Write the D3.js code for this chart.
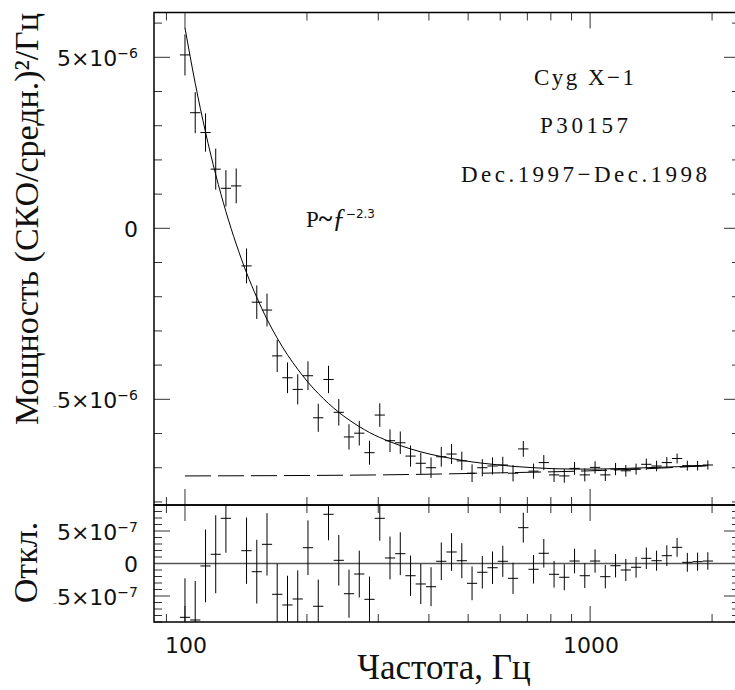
<!DOCTYPE html>
<html><head><meta charset="utf-8">
<script src="https://cdn.jsdelivr.net/npm/d3@7"></script>
<style>body{margin:0;background:#fff}svg{display:block}</style>
</head><body>
<svg id="c" width="735" height="690"></svg>
<script>
// ---- data ----
const freqs = [100,106,112.4,119.1,126.2,133.8,141.9,150.4,159.4,168.9,179.1,189.8,201.2,213.3,226.1,239.7,254.0,269.3,285.4,302.6,320.7,340.0,360.4,382.0,404.9,429.2,455.0,482.3,511.2,541.9,574.3,608.8,645.3,684.0,725.1,768.6,814.7,863.6,915.4,970.3,1028.5,1090.2,1155.6,1225.0,1298.5,1376.4,1459.0,1546.5,1639.3,1737.7,1842.0,1952.5];
// power, units of 1e-6
const power = [5.07,3.38,2.80,1.73,1.17,1.24,-1.10,-2.16,-2.39,-3.73,-4.37,-4.71,-4.31,-5.54,-4.42,-5.38,-6.10,-5.99,-6.56,-5.46,-6.21,-6.27,-6.66,-6.87,-7.00,-6.68,-6.60,-6.80,-7.16,-7.00,-6.95,-6.92,-7.16,-6.45,-7.10,-6.85,-7.21,-7.24,-7.02,-7.21,-6.99,-7.21,-7.04,-7.09,-7.04,-6.90,-6.95,-6.85,-6.73,-6.94,-6.94,-6.92];
// errors, units of 1e-6
const powerErr = [0.60,0.60,0.56,0.60,0.53,0.51,0.51,0.49,0.48,0.47,0.45,0.44,0.42,0.41,0.40,0.39,0.37,0.36,0.35,0.345,0.33,0.33,0.31,0.31,0.30,0.29,0.29,0.27,0.26,0.25,0.25,0.24,0.24,0.23,0.22,0.22,0.205,0.20,0.19,0.19,0.18,0.18,0.18,0.17,0.16,0.165,0.155,0.16,0.145,0.145,0.14,0.135];
// residuals, units of 1e-7
const resid = [-8.28,-8.69,-0.38,1.42,6.95,14.4,1.97,-1.26,2.95,-4.74,-6.38,-5.46,2.43,-6.58,7.57,0.49,-4.65,-1.62,-5.51,6.95,0.85,1.51,-1.88,-3.15,-3.57,0.34,1.77,0.43,-3.05,-1.35,-0.65,0.34,-2.28,5.51,-0.89,1.57,-1.66,-2.12,0.38,-1.88,0.38,-2.03,-0.34,-1.0,-0.58,0.8,0.43,1.2,2.49,0.18,0.28,0.38];
// fitted model curve P~f^-2.3 (units 1e-6)
const fitF = [100,106,112.4,119.1,126.2,133.8,141.9,150.4,159.4,168.9,179.1,189.8,201.2,213.3,226.1,239.7,254,285.4,320.7,360.4,404.9,455,511.2,574.3,645.3,725,814.7,915.4,1028.5,1155.6,1298.5,1459,1639.3,1842,1952.5];
const fitP = [5.86,4.24,2.81,1.57,0.49,-0.46,-1.30,-2.02,-2.66,-3.21,-3.70,-4.12,-4.50,-4.83,-5.12,-5.38,-5.60,-5.97,-6.24,-6.45,-6.61,-6.73,-6.83,-6.90,-6.96,-7.00,-7.03,-7.04,-7.04,-7.03,-7.01,-6.99,-6.97,-6.95,-6.94];
// constant (dashed) component
const levelF = [100,300,600,1000,1500,1952.5];
const levelP = [-7.24,-7.21,-7.15,-7.09,-7.01,-6.94];
const xTickLabels = [100, 1000];
const yTopTickLabels = [5e-6, 0, -5e-6];
const yBotTickLabels = [5e-7, 0, -5e-7];
const annot = ["Cyg X\u22121", "P30157", "Dec.1997\u2212Dec.1998"];

// ---- layout ----
const L = 154, R = 740, T = 12.5, M = 505, B = 622;
const svg = d3.select("#c");
const x = d3.scaleLog().domain([83.86, 2344]).range([L, R]);
const yT = d3.scaleLinear().domain([-8.09e-6, 6.31e-6]).range([M, T]);
const yB = d3.scaleLinear().domain([-9e-7, 9e-7]).range([B, M]);

const defs = svg.append("defs");
defs.append("clipPath").attr("id","clipT").append("rect").attr("x",L).attr("y",T).attr("width",R-L).attr("height",M-T);
defs.append("clipPath").attr("id","clipB").append("rect").attr("x",L).attr("y",M).attr("width",R-L).attr("height",B-M);

// ---- ticks ----
const tickG = svg.append("g").attr("stroke","#333").attr("stroke-width",1);
const xt = x.ticks();
const isMajorX = f => Math.abs(Math.log10(f) - Math.round(Math.log10(f))) < 1e-9;
xt.forEach(f => {
  const px = x(f), len = isMajorX(f) ? 16 : 8;
  tickG.append("line").attr("x1",px).attr("x2",px).attr("y1",T).attr("y2",T+len);
  tickG.append("line").attr("x1",px).attr("x2",px).attr("y1",M-len).attr("y2",M+len);
  tickG.append("line").attr("x1",px).attr("x2",px).attr("y1",B).attr("y2",B-len);
});
d3.range(-8, 7).forEach(k => {
  const py = yT(k*1e-6), len = (k % 5 === 0) ? 16 : 8;
  tickG.append("line").attr("x1",L).attr("x2",L+len).attr("y1",py).attr("y2",py);
  tickG.append("line").attr("x1",R).attr("x2",R-len).attr("y1",py).attr("y2",py);
});
d3.range(-9, 10).forEach(k => {
  const py = yB(k*1e-7), len = (k % 5 === 0) ? 16 : 8;
  tickG.append("line").attr("x1",L).attr("x2",L+len).attr("y1",py).attr("y2",py);
  tickG.append("line").attr("x1",R).attr("x2",R-len).attr("y1",py).attr("y2",py);
});

// ---- zero line in residual panel ----
svg.append("line").attr("x1",L).attr("x2",R).attr("y1",yB(0)).attr("y2",yB(0))
  .attr("stroke","#555").attr("stroke-width",1.5);

// ---- frames ----
svg.append("rect").attr("x",L).attr("y",T).attr("width",R-L).attr("height",M-T)
  .attr("fill","none").attr("stroke","#000").attr("stroke-width",1.5);
svg.append("rect").attr("x",L).attr("y",M).attr("width",R-L).attr("height",B-M)
  .attr("fill","none").attr("stroke","#000").attr("stroke-width",1.5);

// ---- bins ----
const n = freqs.length;
const bins = freqs.map((f,i) => {
  const lo = i > 0 ? Math.sqrt(f*freqs[i-1]) : f/Math.sqrt(freqs[1]/f);
  const hi = i < n-1 ? Math.sqrt(f*freqs[i+1]) : f*Math.sqrt(f/freqs[i-1]);
  return [lo, hi];
});

// ---- top panel ----
const gT = svg.append("g").attr("clip-path","url(#clipT)");
const line = d3.line().curve(d3.curveMonotoneX);
gT.append("path").attr("d", line(fitF.map((f,i)=>[x(f), yT(fitP[i]*1e-6)])))
  .attr("fill","none").attr("stroke","#000").attr("stroke-width",1);
gT.append("path").attr("d", line(levelF.map((f,i)=>[x(f), yT(levelP[i]*1e-6)])))
  .attr("fill","none").attr("stroke","#000").attr("stroke-width",1).attr("stroke-dasharray","26,7");
const ptsT = gT.append("g").attr("stroke","#000").attr("stroke-width",1);
freqs.forEach((f,i) => {
  const v = power[i]*1e-6, e = powerErr[i]*1e-6;
  ptsT.append("line").attr("x1",x(f)).attr("x2",x(f)).attr("y1",yT(v-e)).attr("y2",yT(v+e));
  ptsT.append("line").attr("x1",x(bins[i][0])).attr("x2",x(bins[i][1])).attr("y1",yT(v)).attr("y2",yT(v));
});

// ---- bottom panel ----
const gB = svg.append("g").attr("clip-path","url(#clipB)");
const ptsB = gB.append("g").attr("stroke","#000").attr("stroke-width",1);
freqs.forEach((f,i) => {
  const v = resid[i]*1e-7, e = powerErr[i]*1e-6;
  ptsB.append("line").attr("x1",x(f)).attr("x2",x(f)).attr("y1",yB(v-e)).attr("y2",yB(v+e));
  ptsB.append("line").attr("x1",x(bins[i][0])).attr("x2",x(bins[i][1])).attr("y1",yB(v)).attr("y2",yB(v));
});

// ---- tick labels ----
function sciLabel(sel, v, exp) {
  if (v === 0) { sel.text("0"); return; }
  const m = Math.round(Math.abs(v) / Math.pow(10, exp));
  if (v < 0) sel.append("tspan").attr("font-size", 5).text("\u2212");
  sel.append("tspan").text(m + "\u00d710");
  sel.append("tspan").attr("font-size", 14).attr("dy", -8).text("\u2212" + Math.abs(exp));
}
const lblFont = "'DejaVu Sans', sans-serif";
yTopTickLabels.forEach(v => {
  const t = svg.append("text").attr("x",138).attr("y",yT(v)+8.5).attr("text-anchor","end")
    .attr("font-family",lblFont).attr("font-size",22).attr("fill","#111");
  sciLabel(t, v, -6);
});
yBotTickLabels.forEach(v => {
  const t = svg.append("text").attr("x",138).attr("y",yB(v)+8.5).attr("text-anchor","end")
    .attr("font-family",lblFont).attr("font-size",22).attr("fill","#111");
  sciLabel(t, v, -7);
});
xTickLabels.forEach(f => {
  svg.append("text").attr("x",x(f)+1).attr("y",653).attr("text-anchor","middle")
    .attr("font-family",lblFont).attr("font-size",22).attr("fill","#111").text(f);
});

// ---- axis titles ----
const serif = "'Liberation Serif', 'Times New Roman', serif";
svg.append("text").attr("transform","translate(38,219) rotate(-90)").attr("text-anchor","middle")
  .attr("font-family",serif).attr("font-size",34).attr("fill","#111")
  .text("Мощность (СКО/средн.)\u00b2/Гц");
svg.append("text").attr("transform","translate(37,562.5) rotate(-90)").attr("text-anchor","middle")
  .attr("font-family",serif).attr("font-size",34).attr("fill","#111").text("Откл.");
svg.append("text").attr("x",444).attr("y",679).attr("text-anchor","middle")
  .attr("font-family",serif).attr("font-size",35).attr("fill","#111").text("Частота, Гц");

// ---- annotations ----
const annY = [85, 133, 182], annW = [100, 88, 246];
annot.forEach((s,i) => {
  svg.append("text").attr("x",584 - annW[i]/2).attr("y",annY[i])
    .attr("font-family",serif).attr("font-size",23).attr("fill","#111")
    .attr("textLength",annW[i]).attr("lengthAdjust","spacing").text(s);
});
const pl = svg.append("text").attr("x",306).attr("y",227).attr("font-family",serif).attr("font-size",23).attr("fill","#111");
pl.append("tspan").text("P");
pl.append("tspan").attr("font-size",26).attr("font-weight","bold").text("~");
pl.append("tspan").attr("font-style","italic").attr("font-size",27).text("\u0192");
pl.append("tspan").attr("font-family",lblFont).attr("font-size",12).attr("dy",-9).text("\u22122.3");
</script>
</body></html>
